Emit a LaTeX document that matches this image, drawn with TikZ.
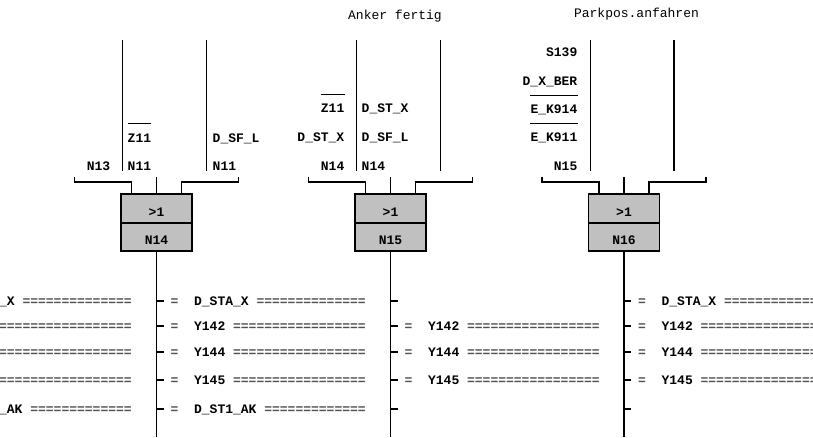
\documentclass[tikz,border=0pt]{standalone}
\usepackage{fontspec}
\setmonofont{Liberation Mono}
\usetikzlibrary{calc}
\definecolor{gatefill}{RGB}{192,192,192}
\definecolor{eqgray}{RGB}{80,80,80}
\newcommand\labfont{\ttfamily\bfseries\fontsize{13}{15}\selectfont}
\newcommand\hdrfont{\ttfamily\fontsize{13}{15}\selectfont}
\newcommand\rowfont{\ttfamily\bfseries\fontsize{13}{15}\selectfont}
\newcommand\eqrow[2]{{\color{eqgray}=\ \ }#1\ {\color{eqgray}#2}}
\begin{document}
\begin{tikzpicture}[x=1pt,y=-1pt,
  lab/.style={font=\labfont, inner sep=0pt},
  labL/.style={lab, anchor=base east},
  labR/.style={lab, anchor=base west},
  hdr/.style={font=\hdrfont, inner sep=0pt, anchor=base},
  gate/.style={draw, line width=1.6pt, fill=gatefill, minimum width=71pt, minimum height=29pt,
    inner sep=0pt, font=\labfont, text height=15.6pt, text depth=0pt},
  wire/.style={line width=1.3pt},
  brk/.style={line width=1.6pt},
  bar/.style={line width=1pt},
  tickmark/.style={line width=1.3pt},
  rowtxt/.style={font=\rowfont, inner sep=0pt, anchor=base west}]
\useasboundingbox (0,0) rectangle (813,437);
\clip (0,0) rectangle (813,437);

% ---------------- column 1 (N14) ----------------
\coordinate (a1t) at (122.5,40); \coordinate (a1b) at (122.5,171);
\coordinate (b1t) at (206.5,40); \coordinate (b1b) at (206.5,171);
\draw[wire] (a1t) -- (a1b);
\draw[wire] (b1t) -- (b1b);
\node[gate] (g1) at (156.5,208.5) {>1};
\node[gate, minimum height=28pt] (n1) at (156.5,237) {N14};
\coordinate (l1) at (74.5,177); \coordinate (m1) at (156.5,177); \coordinate (r1) at (238.5,177);
\draw[brk] (l1) |- ($(g1.north)+(-25,-11)$) -- ($(g1.north)+(-25,0)$);
\draw[brk] (r1) |- ($(g1.north)+(25,-11)$) -- ($(g1.north)+(25,0)$);
\draw[brk] (m1) -- (g1.north);
\coordinate (o1) at (156.5,437);
\draw[wire] (n1.south) -- (o1);
\node[labR] (c1z11) at (127.5,142) {Z11};
\draw[bar] ($(c1z11.base west)+(0,-18.5)$) -- ($(c1z11.base east)+(0,-18.5)$);
\node[labR] (c1dsfl) at (212.5,142) {D\_SF\_L};
\node[labL] (c1n13) at (110.5,170) {N13};
\node[labR] (c1n11a) at (127.5,170) {N11};
\node[labR] (c1n11b) at (212.5,170) {N11};

% ---------------- column 2 (N15) ----------------
\node[hdr] (h2) at (395,19) {Anker fertig};
\coordinate (a2t) at (356.5,40); \coordinate (a2b) at (356.5,171);
\coordinate (b2t) at (440.5,40); \coordinate (b2b) at (440.5,171);
\draw[wire] (a2t) -- (a2b);
\draw[wire] (b2t) -- (b2b);
\node[gate] (g2) at (390.5,208.5) {>1};
\node[gate, minimum height=28pt] (n2) at (390.5,237) {N15};
\coordinate (l2) at (308.5,177); \coordinate (m2) at (390.5,177); \coordinate (r2) at (472.5,177);
\draw[brk] (l2) |- ($(g2.north)+(-25,-11)$) -- ($(g2.north)+(-25,0)$);
\draw[brk] (r2) |- ($(g2.north)+(25,-11)$) -- ($(g2.north)+(25,0)$);
\draw[brk] (m2) -- (g2.north);
\coordinate (o2) at (390.5,437);
\draw[wire] (n2.south) -- (o2);
\node[labL] (c2z11) at (344.5,112) {Z11};
\draw[bar] ($(c2z11.base west)+(0,-18)$) -- ($(c2z11.base east)+(0,-18)$);
\node[labR] (c2dstxa) at (361.5,112) {D\_ST\_X};
\node[labL] (c2dstxb) at (344.5,141) {D\_ST\_X};
\node[labR] (c2dsfl) at (361.5,141) {D\_SF\_L};
\node[labL] (c2n14a) at (344.5,170) {N14};
\node[labR] (c2n14b) at (361.5,170) {N14};

% ---------------- column 3 (N16) ----------------
\node[hdr] (h3) at (636.5,17.5) {Parkpos.anfahren};
\coordinate (a3t) at (590.5,40); \coordinate (a3b) at (590.5,171);
\coordinate (b3t) at (674,40); \coordinate (b3b) at (674,171);
\draw[wire] (a3t) -- (a3b);
\draw[wire] (b3t) -- (b3b);
\node[gate] (g3) at (624,208.5) {>1};
\node[gate, minimum height=28pt] (n3) at (624,237) {N16};
\coordinate (l3) at (542,177); \coordinate (m3) at (624,177); \coordinate (r3) at (706,177);
\draw[brk] (l3) |- ($(g3.north)+(-25,-11)$) -- ($(g3.north)+(-25,0)$);
\draw[brk] (r3) |- ($(g3.north)+(25,-11)$) -- ($(g3.north)+(25,0)$);
\draw[brk] (m3) -- (g3.north);
\coordinate (o3) at (624,437);
\draw[wire] (n3.south) -- (o3);
\node[labL] (c3s139) at (577.5,56.7) {S139};
\node[labL] (c3dxber) at (577.5,85) {D\_X\_BER};
\node[labL] (c3ek914) at (577.5,113.3) {E\_K914};
\draw[bar] ($(c3ek914.base west)+(0,-18.3)$) -- ($(c3ek914.base east)+(0,-18.3)$);
\node[labL] (c3ek911) at (577.5,141.7) {E\_K911};
\draw[bar] ($(c3ek911.base west)+(0,-18.3)$) -- ($(c3ek911.base east)+(0,-18.3)$);
\node[labL] (c3n15) at (577.5,170) {N15};

% ---------------- output rows ----------------
\foreach \c/\k in {-77.5/0, 156.5/1, 390.5/2, 624/3} {
  \foreach \y in {301,326,352,380,409} {
    \draw[tickmark] (\c,\y) -- ++(7,0);
  }
}
\foreach \c/\k in {-77.5/0, 156.5/1} {
  \node[rowtxt] (r\k a) at (\c+14,305) {\eqrow{D\_STA\_X}{==============}};
  \node[rowtxt] (r\k b) at (\c+14,330) {\eqrow{Y142}{=================}};
  \node[rowtxt] (r\k c) at (\c+14,356) {\eqrow{Y144}{=================}};
  \node[rowtxt] (r\k d) at (\c+14,384) {\eqrow{Y145}{=================}};
  \node[rowtxt] (r\k e) at (\c+14,413) {\eqrow{D\_ST1\_AK}{=============}};
}
\node[rowtxt] (r2b) at (404.5,330) {\eqrow{Y142}{=================}};
\node[rowtxt] (r2c) at (404.5,356) {\eqrow{Y144}{=================}};
\node[rowtxt] (r2d) at (404.5,384) {\eqrow{Y145}{=================}};
\node[rowtxt] (r3a) at (638,305) {\eqrow{D\_STA\_X}{==============}};
\node[rowtxt] (r3b) at (638,330) {\eqrow{Y142}{=================}};
\node[rowtxt] (r3c) at (638,356) {\eqrow{Y144}{=================}};
\node[rowtxt] (r3d) at (638,384) {\eqrow{Y145}{=================}};
\end{tikzpicture}
\end{document}
